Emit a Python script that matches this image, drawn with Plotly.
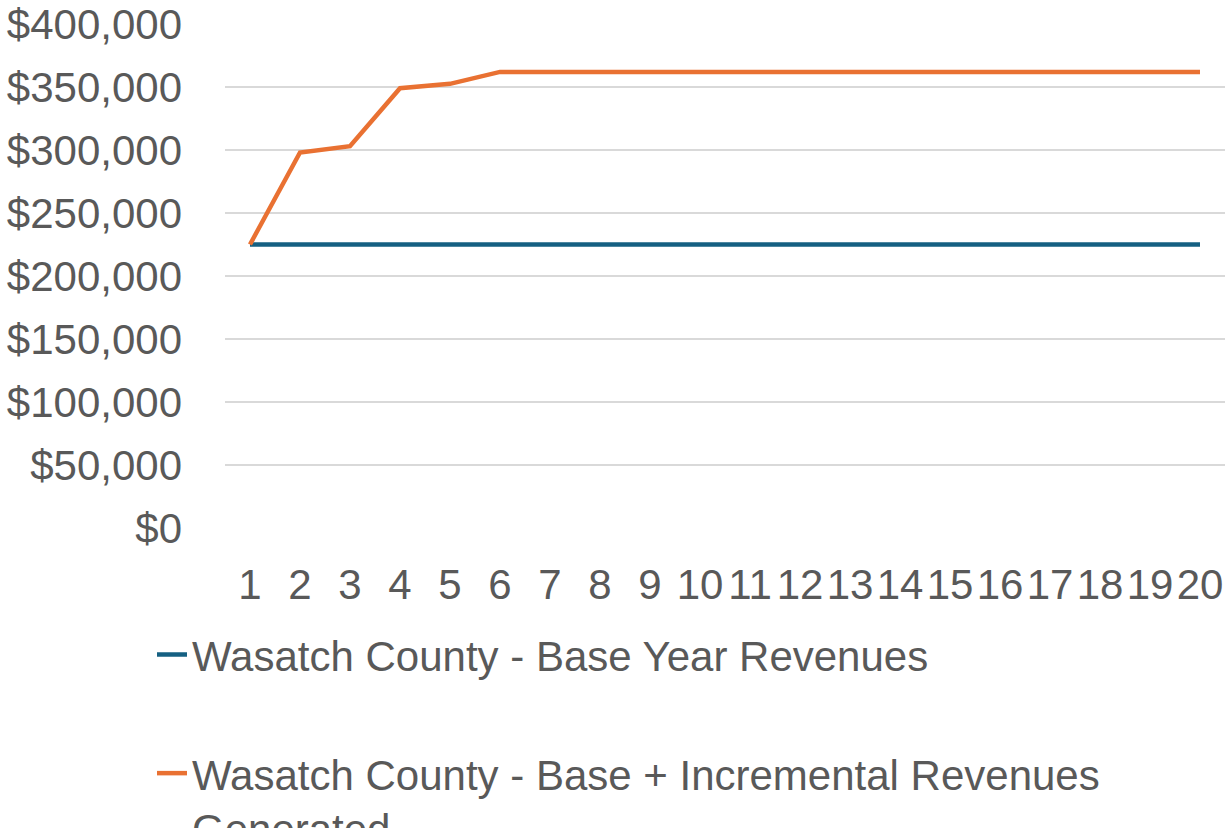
import plotly.graph_objects as go

years = ["1", "2", "3", "4", "5", "6", "7", "8", "9", "10",
         "11", "12", "13", "14", "15", "16", "17", "18", "19", "20"]
base_revenues = [225000, 225000, 225000, 225000, 225000, 225000, 225000, 225000, 225000, 225000,
                 225000, 225000, 225000, 225000, 225000, 225000, 225000, 225000, 225000, 225000]
base_plus_incremental = [225000, 298000, 303000, 349000, 352500, 362000, 362000, 362000, 362000, 362000,
                         362000, 362000, 362000, 362000, 362000, 362000, 362000, 362000, 362000, 362000]
y_ticks = [0, 50000, 100000, 150000, 200000, 250000, 300000, 350000, 400000]
y_labels = ["$0", "$50,000", "$100,000", "$150,000", "$200,000", "$250,000",
            "$300,000", "$350,000", "$400,000"]

FONT = "Liberation Sans, Arial, sans-serif"
TXT = "#595959"

fig = go.Figure()
fig.add_trace(go.Scatter(
    x=years, y=base_revenues, mode="lines",
    name="Wasatch County - Base Year Revenues", legendgroup="a",
    line=dict(color="#156082", width=4.5),
))
fig.add_trace(go.Scatter(
    x=years, y=base_plus_incremental, mode="lines",
    name="Wasatch County - Base + Incremental Revenues<br>Generated", legendgroup="b",
    line=dict(color="#E97132", width=4.5),
))

fig.update_layout(
    width=1230, height=828,
    margin=dict(l=225, r=5, t=24, b=300, autoexpand=False),
    paper_bgcolor="white", plot_bgcolor="white",
    font=dict(family=FONT, size=42, color=TXT),
    showlegend=True,
    legend=dict(
        orientation="v", x=-0.073, xanchor="left", y=-0.184, yanchor="top",
        valign="top", font=dict(family=FONT, size=42, color=TXT),
        bgcolor="rgba(0,0,0,0)", tracegroupgap=61,
    ),
)
fig.update_xaxes(
    type="category", range=[-0.5, 19.5], showgrid=False, showline=False,
    zeroline=False, ticks="", ticklabelstandoff=28,
    tickfont=dict(family=FONT, size=42, color=TXT),
)
fig.update_yaxes(
    range=[0, 400000], tickvals=y_ticks, ticktext=y_labels,
    showgrid=True, gridcolor="#D9D9D9", gridwidth=1.5, zeroline=False,
    showline=False, ticks="", ticklabelstandoff=42,
    tickfont=dict(family=FONT, size=42, color=TXT),
)

fig.write_html("out.html", config={"displayModeBar": False},
               post_script="document.body.style.margin='0';")
